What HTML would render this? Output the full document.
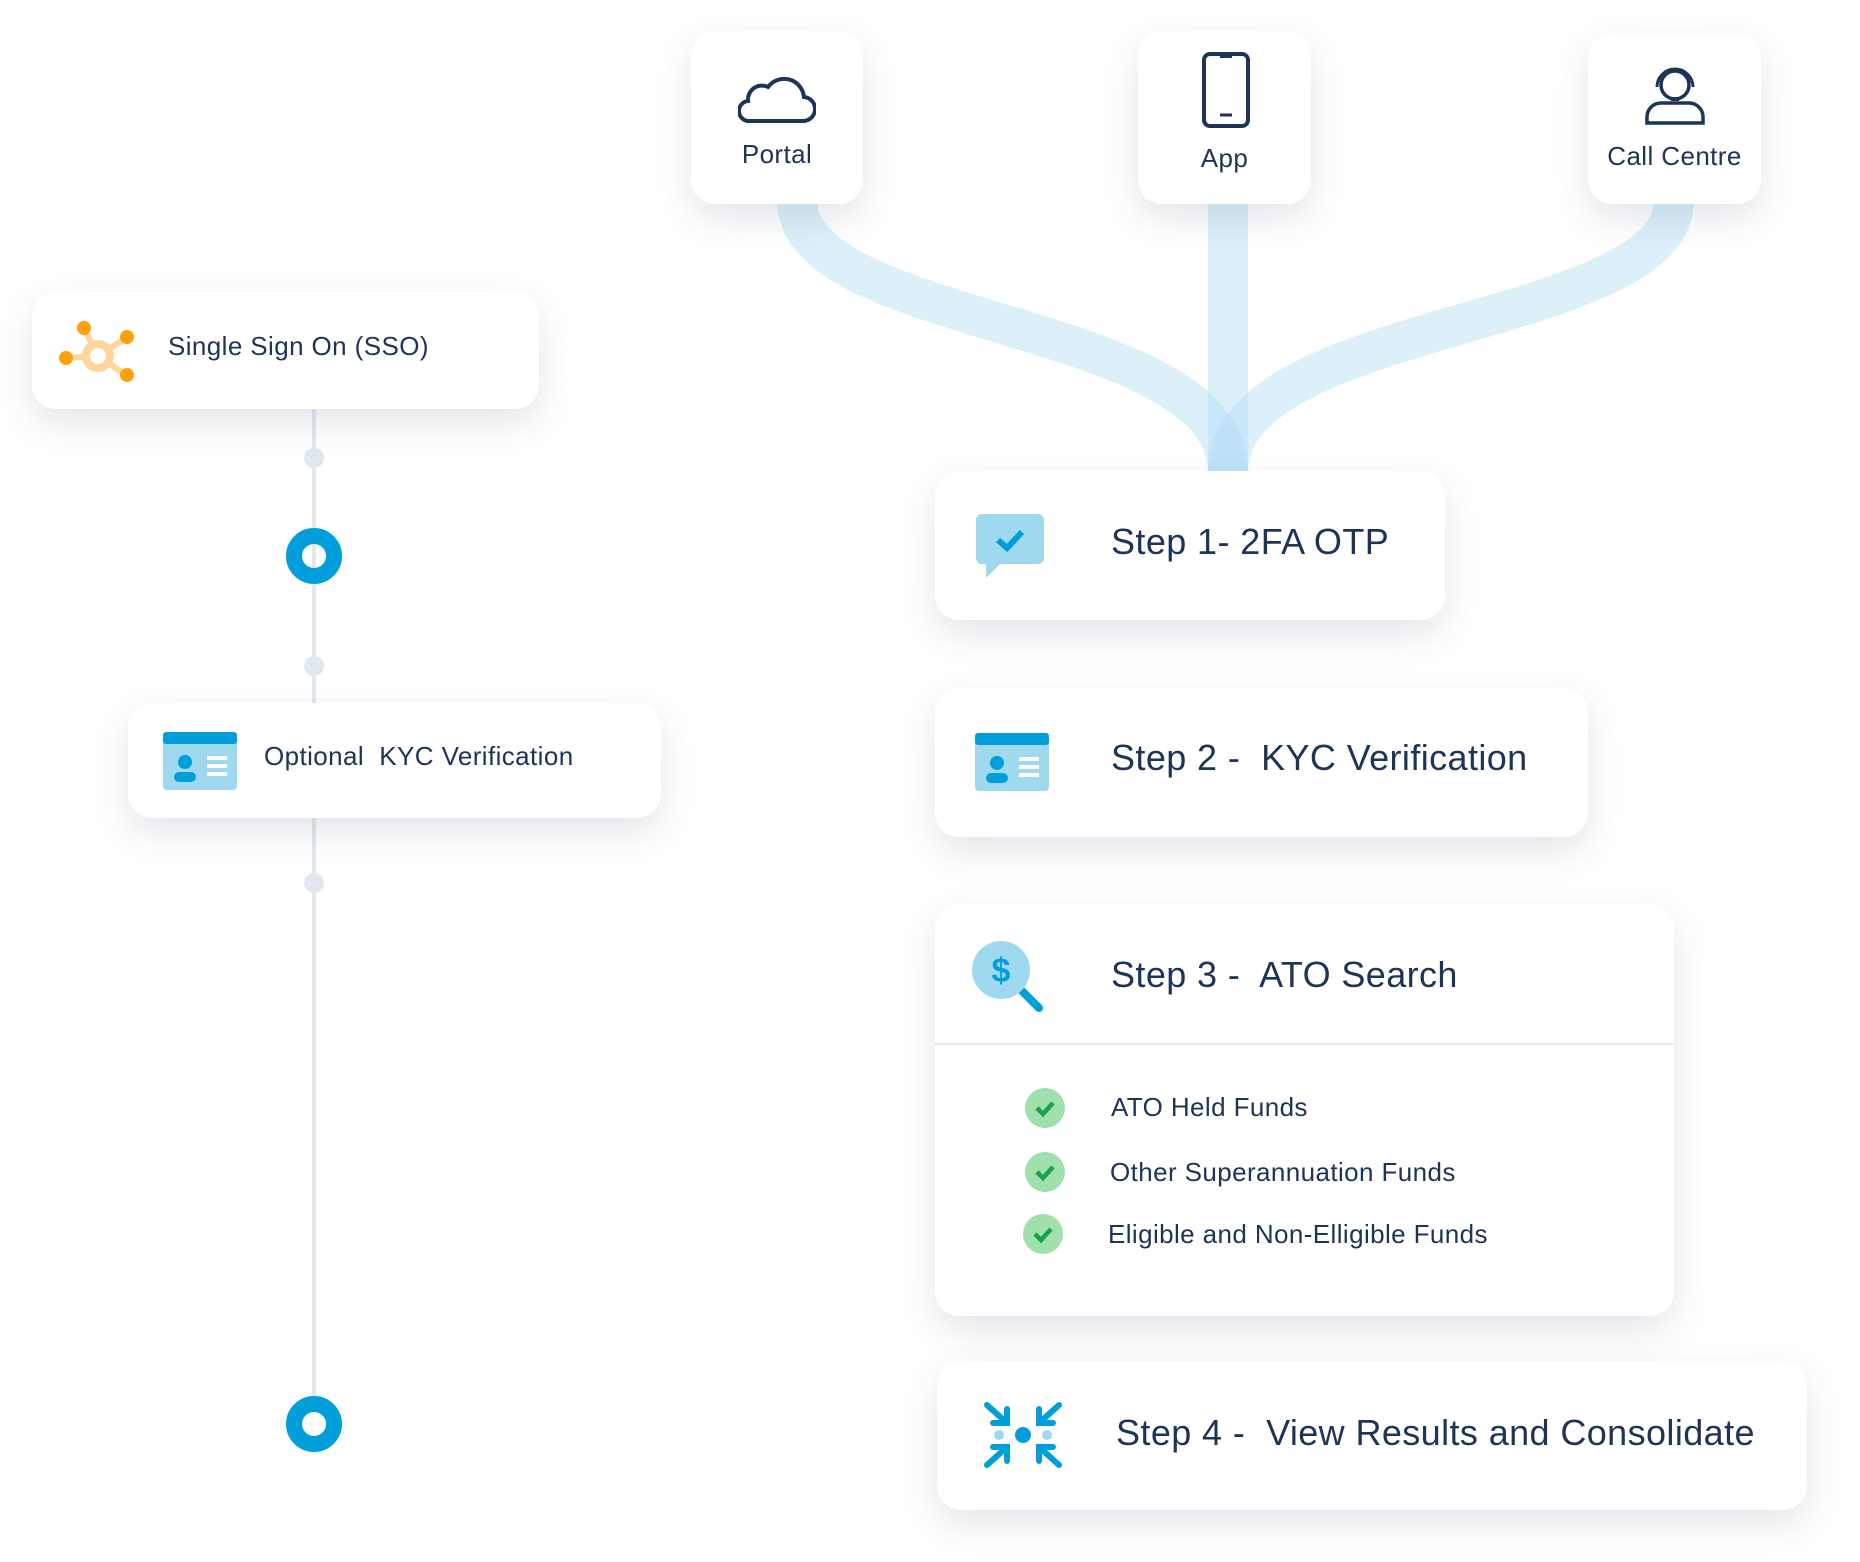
<!DOCTYPE html>
<html><head><meta charset="utf-8"><style>
body{margin:0;width:1860px;height:1562px;background:#fff;position:relative;overflow:hidden;font-family:"Liberation Sans",sans-serif;color:#1d3457}
.c{position:absolute;background:#fff;border-radius:24px;box-shadow:0 14px 36px rgba(40,60,90,0.13)}
.t{position:absolute;white-space:nowrap}
.b{letter-spacing:0.4px}
</style></head><body>
<svg width="1860" height="1562" style="position:absolute;left:0;top:0">
<g fill="none" stroke="rgba(178,222,243,0.45)" stroke-width="40">
<path d="M797 200 C797 330 1228 318 1228 472"/>
<path d="M1674 200 C1674 330 1228 318 1228 472"/>
<path d="M1228 200 L1228 472"/>
</g>
<line x1="314" y1="405" x2="314" y2="1400" stroke="#e3e8ef" stroke-width="4"/>
<circle cx="314" cy="458" r="10" fill="#e1e7ef"/>
<circle cx="314" cy="666" r="10" fill="#e1e7ef"/>
<circle cx="314" cy="883" r="10" fill="#e1e7ef"/>
<circle cx="314" cy="556" r="20" fill="none" stroke="#009fdb" stroke-width="16"/>
<circle cx="314" cy="1424" r="20" fill="none" stroke="#009fdb" stroke-width="16"/>
</svg>

<div class="c" style="left:691px;top:31px;width:172px;height:173px"></div>
<svg style="position:absolute;left:738px;top:69px" width="78" height="56"><path d="M12 52 H64 A12 12 0 0 0 66 28 A20 20 0 0 0 30 18 A14 14 0 0 0 10 32 A10 10 0 0 0 12 52 Z" fill="none" stroke="#1d3457" stroke-width="4"/></svg>
<div class="t b" style="left:691px;width:172px;text-align:center;top:139px;font-size:26px">Portal</div>

<div class="c" style="left:1138px;top:31px;width:173px;height:173px"></div>
<svg style="position:absolute;left:1201px;top:51px" width="50" height="78"><rect x="3" y="3" width="44" height="72" rx="6" fill="none" stroke="#1d3457" stroke-width="4"/><line x1="19" y1="64" x2="31" y2="64" stroke="#1d3457" stroke-width="3"/><line x1="19" y1="5" x2="31" y2="5" stroke="#1d3457" stroke-width="4"/></svg>
<div class="t b" style="left:1138px;width:173px;text-align:center;top:143px;font-size:26px">App</div>

<div class="c" style="left:1588px;top:33px;width:173px;height:171px"></div>
<svg style="position:absolute;left:1643px;top:63px" width="64" height="64"><circle cx="32" cy="22" r="14" fill="none" stroke="#1d3457" stroke-width="3.5"/><path d="M14 24 A18 18 0 0 1 50 24" fill="none" stroke="#1d3457" stroke-width="3"/><path d="M4 60 V54 A14 14 0 0 1 18 40 H46 A14 14 0 0 1 60 54 V60 Z" fill="none" stroke="#1d3457" stroke-width="3.5"/><rect x="28" y="34" width="8" height="4" fill="#1d3457"/></svg>
<div class="t b" style="left:1588px;width:173px;text-align:center;top:141px;font-size:26px">Call Centre</div>

<div class="c" style="left:32px;top:292px;width:507px;height:117px"></div>
<svg style="position:absolute;left:56px;top:318px" width="82" height="68"><g stroke="#ffd69a" stroke-width="6"><line x1="42" y1="38" x2="28" y2="10"/><line x1="42" y1="38" x2="70" y2="20"/><line x1="42" y1="38" x2="10" y2="40"/><line x1="42" y1="38" x2="70" y2="57"/></g><circle cx="42" cy="38" r="12" fill="#fff" stroke="#ffd69a" stroke-width="8"/><g fill="#ff9f0a"><circle cx="28" cy="10" r="7"/><circle cx="71" cy="19" r="7"/><circle cx="10" cy="40" r="7"/><circle cx="71" cy="57" r="7"/></g></svg>
<div class="t b" style="left:168px;top:331px;font-size:26px">Single Sign On (SSO)</div>

<div class="c" style="left:128px;top:703px;width:533px;height:115px"></div>
<svg style="position:absolute;left:163px;top:732px" width="74" height="58"><rect width="74" height="58" rx="4" fill="#9ed9ef"/><rect width="74" height="12" rx="3" fill="#009fdb"/><circle cx="22" cy="30" r="7" fill="#009fdb"/><rect x="11" y="40" width="22" height="10" rx="5" fill="#009fdb"/><g fill="#fff"><rect x="44" y="24" width="20" height="4"/><rect x="44" y="32" width="20" height="4"/><rect x="44" y="40" width="20" height="4"/></g></svg>
<div class="t b" style="left:264px;top:741px;font-size:26px">Optional&nbsp; KYC Verification</div>

<div class="c" style="left:935px;top:471px;width:510px;height:149px"></div>
<svg style="position:absolute;left:976px;top:514px" width="68" height="66"><path d="M6 0 H62 A6 6 0 0 1 68 6 V44 A6 6 0 0 1 62 50 H24 L10 64 V50 H6 A6 6 0 0 1 0 44 V6 A6 6 0 0 1 6 0 Z" fill="#9ed9ef"/><path d="M22 26 L31 34 L46 18" fill="none" stroke="#009fdb" stroke-width="6"/></svg>
<div class="t b" style="left:1111px;top:521px;font-size:36px">Step 1- 2FA OTP</div>

<div class="c" style="left:935px;top:688px;width:653px;height:149px"></div>
<svg style="position:absolute;left:975px;top:733px" width="74" height="58"><rect width="74" height="58" rx="4" fill="#9ed9ef"/><rect width="74" height="12" rx="3" fill="#009fdb"/><circle cx="22" cy="30" r="7" fill="#009fdb"/><rect x="11" y="40" width="22" height="10" rx="5" fill="#009fdb"/><g fill="#fff"><rect x="44" y="24" width="20" height="4"/><rect x="44" y="32" width="20" height="4"/><rect x="44" y="40" width="20" height="4"/></g></svg>
<div class="t b" style="left:1111px;top:737px;font-size:36px">Step 2 -&nbsp; KYC Verification</div>

<div class="c" style="left:935px;top:904px;width:739px;height:412px"></div>
<div style="position:absolute;left:935px;top:1043px;width:739px;height:2px;background:#e6eaef"></div>
<svg style="position:absolute;left:971px;top:940px" width="76" height="76"><line x1="44" y1="44" x2="68" y2="68" stroke="#009fdb" stroke-width="8" stroke-linecap="round"/><circle cx="30" cy="30" r="29" fill="#9ed9ef"/><text x="30" y="42" text-anchor="middle" font-family="Liberation Sans" font-weight="bold" font-size="34" fill="#009fdb">$</text></svg>
<div class="t b" style="left:1111px;top:954px;font-size:36px">Step 3 -&nbsp; ATO Search</div>
<svg style="position:absolute;left:1023px;top:1086px" width="44" height="170"><g fill="#9fe0ad"><circle cx="22" cy="22" r="20"/><circle cx="22" cy="86" r="20"/><circle cx="20" cy="148" r="20"/></g><g fill="none" stroke="#16a34a" stroke-width="4.5"><path d="M14 22 L20 28 L30 17"/><path d="M14 86 L20 92 L30 81"/><path d="M12 148 L18 154 L28 143"/></g></svg>
<div class="t b" style="left:1111px;top:1092px;font-size:26px">ATO Held Funds</div>
<div class="t b" style="left:1110px;top:1157px;font-size:26px">Other Superannuation Funds</div>
<div class="t b" style="left:1108px;top:1219px;font-size:26px">Eligible and Non-Elligible Funds</div>

<div class="c" style="left:937px;top:1361px;width:870px;height:149px"></div>
<svg style="position:absolute;left:983px;top:1401px" width="80" height="68"><circle cx="40" cy="34" r="8" fill="#009fdb"/><g stroke="#009fdb" stroke-width="6" fill="none" stroke-linecap="round"><path d="M4 4 L24 22 M24 8 V22 H10"/><path d="M76 4 L56 22 M56 8 V22 H70"/><path d="M4 64 L24 46 M24 60 V46 H10"/><path d="M76 64 L56 46 M56 60 V46 H70"/></g><g fill="#9ed9ef"><circle cx="16" cy="34" r="5"/><circle cx="64" cy="34" r="5"/></g></svg>
<div class="t b" style="left:1116px;top:1412px;font-size:36px">Step 4 -&nbsp; View Results and Consolidate</div>
</body></html>
